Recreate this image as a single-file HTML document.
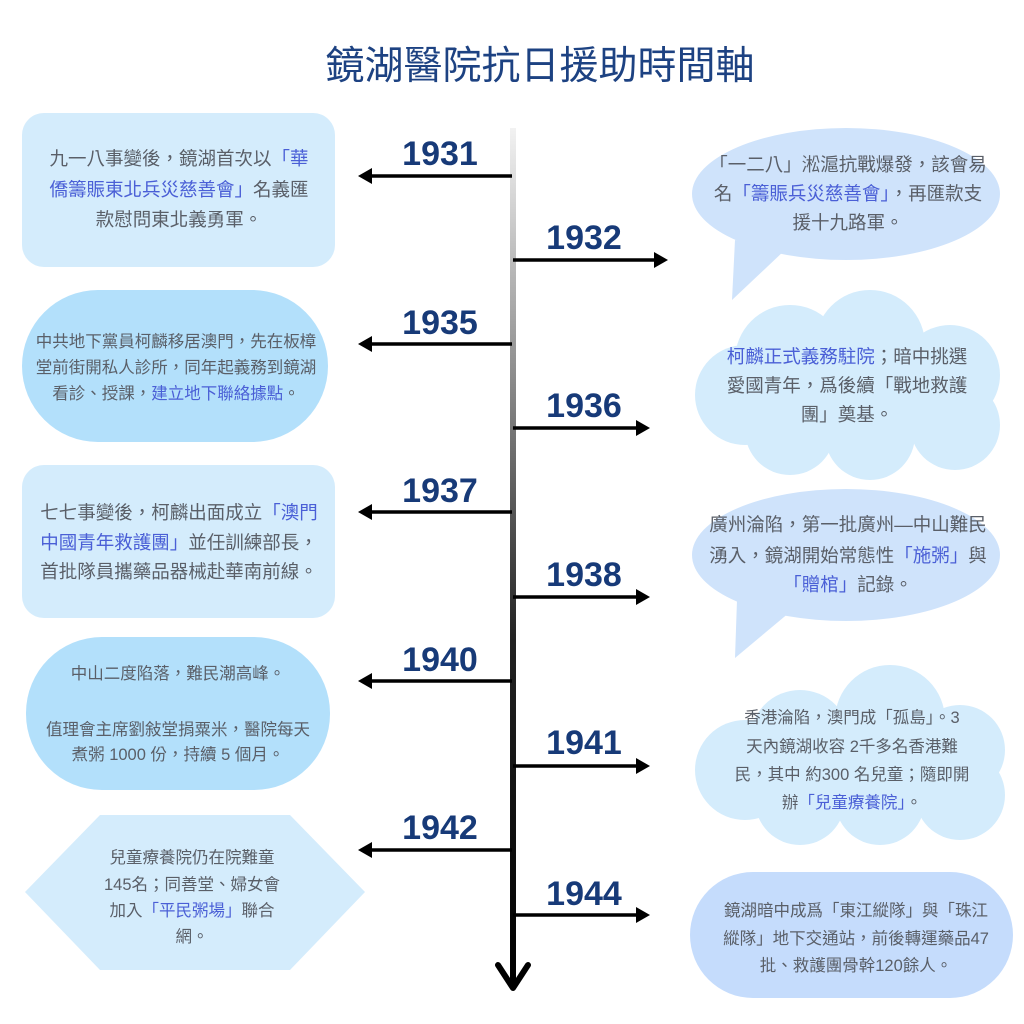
<!DOCTYPE html>
<html><head><meta charset="utf-8"><style>
html,body{margin:0;padding:0;background:#fff;}
svg{display:block;}
text{font-family:"Liberation Sans","Noto Sans CJK TC",sans-serif;}
.t{fill:#5a5f68;font-size:18.5px;text-anchor:middle;}
.s{fill:#5a5f68;font-size:16.5px;text-anchor:middle;}
.b{fill:#4a5fd6;}
.y{fill:#173a78;font-size:34px;font-weight:bold;text-anchor:middle;}
</style></head><body>
<svg width="1024" height="1024" viewBox="0 0 1024 1024" xmlns="http://www.w3.org/2000/svg">
<defs>
<linearGradient id="lg" x1="0" y1="0" x2="0" y2="1">
<stop offset="0" stop-color="#f2f2f2"/><stop offset="0.35" stop-color="#777"/><stop offset="0.6" stop-color="#222"/><stop offset="1" stop-color="#000"/>
</linearGradient>
</defs>
<text x="540" y="79" style="font-size:39px;fill:#1d4282;text-anchor:middle">鏡湖醫院抗日援助時間軸</text>

<!-- left shapes -->
<rect x="22" y="113" width="313" height="154" rx="22" fill="#d4ecfc"/>
<rect x="22" y="290" width="306" height="152" rx="76" fill="#b3e0fb"/>
<rect x="22" y="465" width="313" height="153" rx="22" fill="#d4ecfc"/>
<rect x="26" y="637" width="304" height="153" rx="76" fill="#b3e0fb"/>
<polygon points="25,892 100,815 290,815 365,892 290,970 100,970" fill="#d4ecfc"/>

<!-- right shapes -->
<ellipse cx="846" cy="194" rx="154" ry="66" fill="#cfe3fb"/>
<polygon points="735,240 785,250 732,300" fill="#cfe3fb"/>
<g fill="#d4ecfc">
<circle cx="870" cy="345" r="55"/><circle cx="790" cy="360" r="55"/><circle cx="950" cy="375" r="50"/>
<circle cx="745" cy="395" r="50"/><circle cx="955" cy="425" r="45"/><circle cx="790" cy="430" r="45"/>
<circle cx="870" cy="435" r="45"/><rect x="740" y="340" width="220" height="100"/>
</g>
<ellipse cx="846" cy="555" rx="154" ry="66" fill="#cfe3fb"/>
<polygon points="737,600 790,612 735,658" fill="#cfe3fb"/>
<g fill="#d4ecfc">
<circle cx="890" cy="720" r="55"/><circle cx="800" cy="740" r="50"/><circle cx="960" cy="750" r="45"/>
<circle cx="745" cy="770" r="50"/><circle cx="960" cy="795" r="45"/><circle cx="800" cy="800" r="45"/>
<circle cx="880" cy="800" r="45"/><rect x="745" y="720" width="220" height="90"/>
</g>
<rect x="690" y="872" width="323" height="126" rx="63" fill="#c5dcfc"/>

<!-- timeline -->
<rect x="510" y="128" width="6" height="855" fill="url(#lg)"/>
<path d="M498,965 L513,988 L528,965" fill="none" stroke="#000" stroke-width="6" stroke-linecap="round" stroke-linejoin="round"/>

<g stroke="#000" stroke-width="3.5">
<line x1="512" y1="176" x2="368" y2="176"/><line x1="512" y1="344" x2="368" y2="344"/>
<line x1="512" y1="512" x2="368" y2="512"/><line x1="512" y1="681" x2="368" y2="681"/>
<line x1="512" y1="850" x2="368" y2="850"/>
<line x1="513" y1="260" x2="658" y2="260"/><line x1="513" y1="428" x2="640" y2="428"/>
<line x1="513" y1="597" x2="640" y2="597"/><line x1="513" y1="766" x2="640" y2="766"/>
<line x1="513" y1="915" x2="640" y2="915"/>
</g>
<g fill="#000">
<polygon points="358,176 372,168 372,184"/><polygon points="358,344 372,336 372,352"/>
<polygon points="358,512 372,504 372,520"/><polygon points="358,681 372,673 372,689"/>
<polygon points="358,850 372,842 372,858"/>
<polygon points="668,260 654,252 654,268"/><polygon points="650,428 636,420 636,436"/>
<polygon points="650,597 636,589 636,605"/><polygon points="650,766 636,758 636,774"/>
<polygon points="650,915 636,907 636,923"/>
</g>

<text class="y" x="440" y="165">1931</text>
<text class="y" x="584" y="249">1932</text>
<text class="y" x="440" y="334">1935</text>
<text class="y" x="584" y="417">1936</text>
<text class="y" x="440" y="502">1937</text>
<text class="y" x="584" y="586">1938</text>
<text class="y" x="440" y="671">1940</text>
<text class="y" x="584" y="754">1941</text>
<text class="y" x="440" y="839">1942</text>
<text class="y" x="584" y="905">1944</text>

<!-- left texts -->
<text class="t" x="179" y="165">九一八事變後，鏡湖首次以<tspan class="b">「華</tspan></text>
<text class="t" x="179" y="196"><tspan class="b">僑籌賑東北兵災慈善會」</tspan>名義匯</text>
<text class="t" x="179" y="226">款慰問東北義勇軍。</text>

<text class="s" x="176" y="347">中共地下黨員柯麟移居澳門，先在板樟</text>
<text class="s" x="176" y="373">堂前街開私人診所，同年起義務到鏡湖</text>
<text class="s" x="176" y="399">看診、授課，<tspan class="b">建立地下聯絡據點</tspan>。</text>

<text class="t" x="179" y="519">七七事變後，柯麟出面成立<tspan class="b">「澳門</tspan></text>
<text class="t" x="179" y="549"><tspan class="b">中國青年救護團」</tspan>並任訓練部長，</text>
<text class="t" x="179" y="578">首批隊員攜藥品器械赴華南前線。</text>

<text class="s" x="178" y="679">中山二度陷落，難民潮高峰。</text>
<text class="s" x="178" y="735">值理會主席劉敍堂捐粟米，醫院每天</text>
<text class="s" x="178" y="760">煮粥 1000 份，持續 5 個月。</text>

<text class="s" x="192" y="863">兒童療養院仍在院難童</text>
<text class="s" x="192" y="890">145名；同善堂、婦女會</text>
<text class="s" x="192" y="916">加入<tspan class="b">「平民粥場」</tspan>聯合</text>
<text class="s" x="192" y="942">網。</text>

<!-- right texts -->
<text class="t" x="848" y="171">「一二八」淞滬抗戰爆發，該會易</text>
<text class="t" x="848" y="200">名<tspan class="b">「籌賑兵災慈善會」</tspan>，再匯款支</text>
<text class="t" x="848" y="229">援十九路軍。</text>

<text class="t" x="847" y="363"><tspan class="b">柯麟正式義務駐院</tspan>；暗中挑選</text>
<text class="t" x="847" y="392">愛國青年，爲後續「戰地救護</text>
<text class="t" x="847" y="421">團」奠基。</text>

<text class="t" x="848" y="531">廣州淪陷，第一批廣州—中山難民</text>
<text class="t" x="848" y="562">湧入，鏡湖開始常態性<tspan class="b">「施粥」</tspan>與</text>
<text class="t" x="848" y="591"><tspan class="b">「贈棺」</tspan>記錄。</text>

<text class="s" x="852" y="723">香港淪陷，澳門成「孤島」。3</text>
<text class="s" x="852" y="752">天內鏡湖收容 2千多名香港難</text>
<text class="s" x="852" y="780">民，其中 約300 名兒童；隨即開</text>
<text class="s" x="852" y="808">辦<tspan class="b">「兒童療養院」</tspan>。</text>

<text class="s" x="856" y="916">鏡湖暗中成爲「東江縱隊」與「珠江</text>
<text class="s" x="856" y="944">縱隊」地下交通站，前後轉運藥品47</text>
<text class="s" x="856" y="971">批、救護團骨幹120餘人。</text>
</svg>
</body></html>
